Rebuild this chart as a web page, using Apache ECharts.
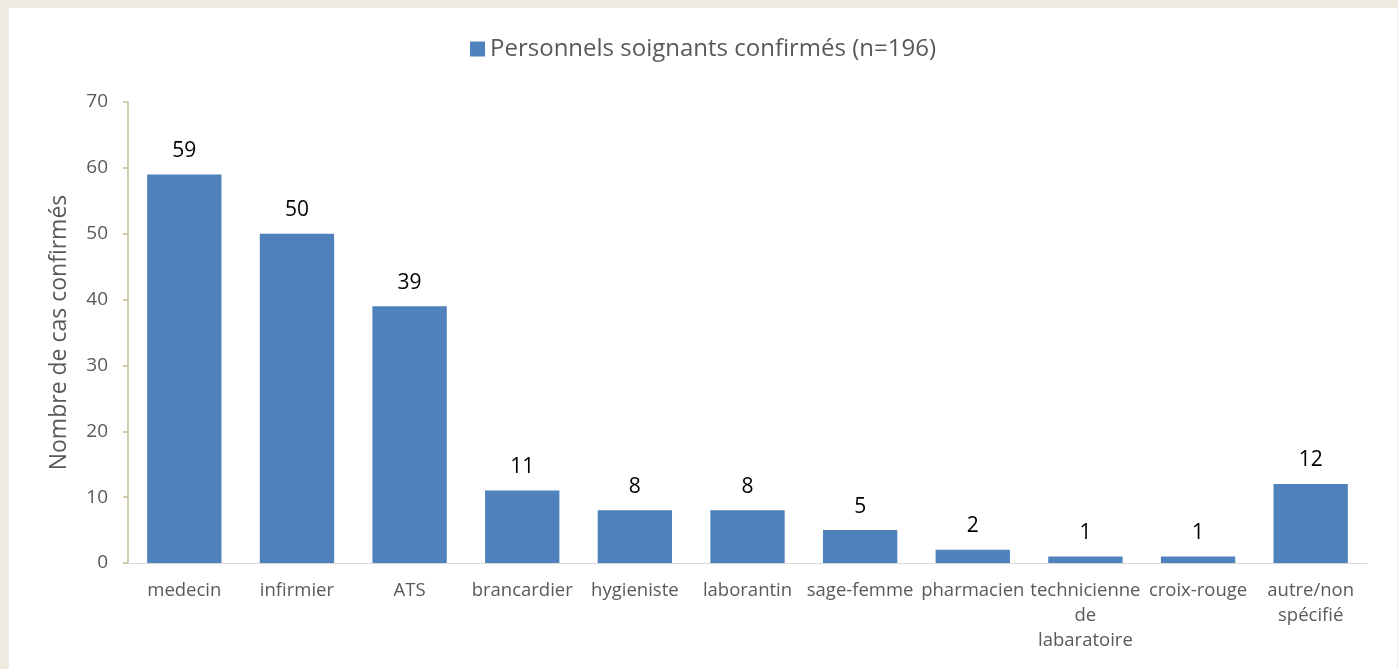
<!DOCTYPE html>
<html><head><meta charset="utf-8">
<script src="https://cdn.jsdelivr.net/npm/echarts@6/dist/echarts.min.js"></script>
<style>
html,body{margin:0;padding:0;background:#EEEBE0;width:1398px;height:669px;overflow:hidden}
#c{position:absolute;left:9px;top:8px;width:1388px;height:661px;background:#fff}
</style></head>
<body><div id="c"></div>
<script>
const categories = ['medecin','infirmier','ATS','brancardier','hygieniste','laborantin','sage-femme','pharmacien','technicienne\nde\nlabaratoire','croix-rouge','autre/non\nspécifié'];
const values = [59,50,39,11,8,8,5,2,1,1,12];
const seriesName = 'Personnels soignants confirmés (n=196)';
const yAxisTitle = 'Nombre de cas confirmés';
const FONT = 'Open Sans';
const chart = echarts.init(document.getElementById('c'));
chart.setOption({
  animation:false,
  textStyle:{fontFamily:FONT},
  legend:{left:'center',top:24,itemWidth:15,itemHeight:15,itemGap:7,icon:'rect',
    textStyle:{fontFamily:FONT,fontSize:24,color:'#595959'},data:[seriesName]},
  grid:{left:119,right:30,top:94,bottom:106,containLabel:false},
  xAxis:{type:'category',data:categories,
    axisLine:{lineStyle:{color:'#D9D9D9',width:1}},axisTick:{show:false},
    axisLabel:{interval:0,fontFamily:FONT,fontSize:18.5,color:'#595959',margin:15,lineHeight:25}},
  yAxis:{type:'value',min:0,max:70,interval:10,name:yAxisTitle,nameLocation:'middle',nameGap:57,
    nameTextStyle:{fontFamily:FONT,fontSize:23,color:'#595959'},
    axisLine:{show:true,lineStyle:{color:'#C4BD97',width:1.5}},
    axisTick:{show:true,length:5,lineStyle:{color:'#C4BD97',width:1.5}},
    splitLine:{show:false},
    axisLabel:{fontFamily:FONT,fontSize:19,color:'#595959',margin:20}},
  series:[{name:seriesName,type:'bar',data:values,barWidth:'66%',
    itemStyle:{color:'#4F81BD'},
    label:{show:true,position:'top',distance:13,fontFamily:FONT,fontSize:21,color:'#000'}}]
});
</script></body></html>
